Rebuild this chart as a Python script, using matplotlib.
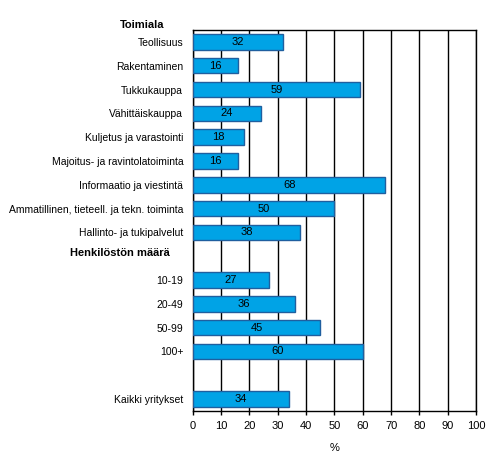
import numpy as np
import matplotlib
matplotlib.use("Agg")
import matplotlib.pyplot as plt

plt.rcParams['font.family'] = ['Liberation Sans', 'DejaVu Sans']

# rows of the chart, top to bottom (None = no bar)
categories = ["Teollisuus", "Rakentaminen", "Tukkukauppa", "Vähittäiskauppa",
              "Kuljetus ja varastointi", "Majoitus- ja ravintolatoiminta",
              "Informaatio ja viestintä", "Ammatillinen, tieteell. ja tekn. toiminta",
              "Hallinto- ja tukipalvelut", "", "10-19", "20-49", "50-99", "100+",
              "", "Kaikki yritykset"]
values = [32, 16, 59, 24, 18, 16, 68, 50, 38, None, 27, 36, 45, 60, None, 34]
headers = ["Toimiala", "Henkilöstön määrä"]
header_rows = [-0.71, 8.87]
header_left = [120, 70]  # pixels from the left edge
xticks = list(range(0, 101, 10))

fig = plt.figure(figsize=(4.92, 4.71), dpi=100)
ax = fig.add_axes([0.392, 0.1274, 0.5755, 0.8089])

ypos = np.arange(len(categories))
for y, v in zip(ypos, values):
    if v is None:
        continue
    ax.barh(y, v, height=0.65, color="#00a3e6", edgecolor="#1f5f9f", linewidth=1, zorder=3)
    ax.text(v / 2, y, str(v), ha="center", va="center", fontsize=8, zorder=4)

ax.set_ylim(len(categories) - 0.5, -0.5)
ax.set_xlim(0, 100)
ax.set_yticks(ypos)
ax.set_yticklabels(categories, fontsize=7.5)
ax.set_xticks(xticks)
ax.set_xticklabels([str(t) for t in xticks], fontsize=8)
ax.tick_params(axis="y", length=0, pad=7)
ax.tick_params(axis="x", length=3, width=1, pad=4)
ax.grid(axis="x", color="black", linewidth=1, zorder=1)
for s in ax.spines.values():
    s.set_linewidth(1)
ax.set_xlabel("%", fontsize=8, labelpad=9)

for h, r, xl in zip(headers, header_rows, header_left):
    fig_y = ax.transData.transform((0, r))[1]
    fig.text(xl / 492, fig_y / (4.71 * 100), h, ha="left", va="center",
             fontsize=8, fontweight="bold")

fig.savefig("out.png", dpi=100)
